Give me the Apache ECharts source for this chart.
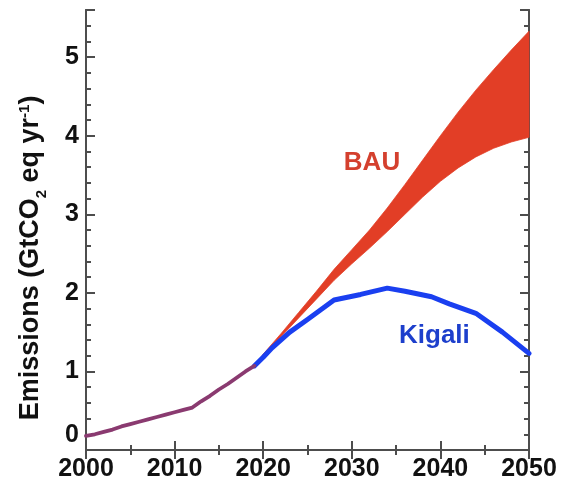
<!DOCTYPE html>
<html><head><meta charset="utf-8">
<script src="https://cdn.jsdelivr.net/npm/echarts@6/dist/echarts.min.js"></script>
<style>html,body{margin:0;padding:0;background:#fff}#c{width:574px;height:482px}</style>
</head><body><div id="c"></div>
<script>
const histYears = [2000,2001,2002,2003,2004,2005,2006,2007,2008,2009,2010,2011,2012,2013,2014,2015,2016,2017,2018,2019];
const histValues = [0.18,0.2,0.23,0.26,0.3,0.33,0.36,0.39,0.42,0.45,0.48,0.51,0.54,0.62,0.69,0.77,0.84,0.92,1.0,1.07];
const bauYears = [2019,2020,2022,2024,2026,2028,2030,2032,2034,2036,2038,2040,2042,2044,2046,2048,2050];
const bauLow  = [1.07,1.2,1.44,1.68,1.92,2.16,2.37,2.57,2.78,3.0,3.22,3.42,3.59,3.73,3.84,3.92,3.98];
const bauHigh = [1.07,1.22,1.48,1.75,2.02,2.3,2.55,2.8,3.08,3.38,3.69,4.0,4.3,4.58,4.84,5.09,5.33];
const kigaliYears = [2019,2020,2021,2023,2025,2028,2031,2034,2036,2039,2041,2044,2047,2050];
const kigaliValues = [1.07,1.18,1.3,1.5,1.66,1.91,1.98,2.06,2.02,1.95,1.86,1.74,1.5,1.23];
const xTicks = [2000,2010,2020,2030,2040,2050];
const yTicks = [0,1,2,3,4,5];

const chart = echarts.init(document.getElementById('c'));
const axisCol = '#4d4d4d';
const font = 'Liberation Sans, Arial, Helvetica, sans-serif';
const lbl = {fontFamily: font, fontWeight: 'bold', fontSize: 25, color: '#111'};

function yAxisDef(pos, interval, len, showLabel){
  return {type:'value', position:pos, min:0, max:5.6, interval:interval,
    axisLine:{show:true, lineStyle:{color:axisCol, width:2}},
    splitLine:{show:false},
    axisTick:{show:true, inside:true, length:len, lineStyle:{color:axisCol, width:2}},
    axisLabel:{show:showLabel, margin:7, ...lbl,
      rich:{z:{fontFamily:font, fontWeight:'bold', fontSize:25, color:'#111', padding:[0,0,30,0]}},
      formatter:v => { const r = Math.round(v); if (!(Math.abs(v-r)<1e-6 && yTicks.includes(r))) return ''; return r === 0 ? '{z|0}' : String(r); }}
  };
}
function xAxisDef(pos, showLabel){
  return {type:'value', position:pos, min:2000, max:2050, interval:10,
    axisLine:{show:true, lineStyle:{color:axisCol, width:2}},
    splitLine:{show:false},
    axisTick:{show:true, inside:true, length:9, lineStyle:{color:axisCol, width:2}},
    minorTick:{show:true, splitNumber:2, length:5, lineStyle:{color:axisCol, width:2}},
    axisLabel:{show:showLabel, margin:7, ...lbl,
      formatter:v => xTicks.includes(v) ? String(v) : ''}
  };
}

const bandData = bauYears.map((y,i)=>[y,bauLow[i],bauHigh[i]]);

chart.setOption({
  animation:false,
  grid:{left:86, right:45, top:10, bottom:32, containLabel:false},
  xAxis:[xAxisDef('bottom', true), xAxisDef('top', false)],
  yAxis:[yAxisDef('left',0.2,5,true), yAxisDef('left',1,9,false), yAxisDef('right',0.2,5,false), yAxisDef('right',1,9,false)],
  series:[
    {type:'custom', name:'BAU', silent:true, data:bandData,
     encode:{x:0, y:[1,2]},
     renderItem:(params, api) => {
       if (params.dataIndex !== 0) return;
       const top = [], bot = [];
       for (let i = 0; i < bandData.length; i++) {
         top.push(api.coord([bandData[i][0], bandData[i][2]]));
         bot.push(api.coord([bandData[i][0], bandData[i][1]]));
       }
       const pts = top.concat(bot.reverse());
       return {type:'polygon', shape:{points:pts, smooth:0}, style:{fill:'#e23e26', stroke:'#e23e26', lineWidth:0.8}};
     }},
    {type:'line', name:'Kigali', symbol:'none', silent:true,
     data: kigaliYears.map((y,i)=>[y,kigaliValues[i]]),
     lineStyle:{width:5, color:'#1a3ff0', join:'round', cap:'round'}},
    {type:'line', name:'History', symbol:'none', silent:true,
     data: histYears.map((y,i)=>[y,histValues[i]]),
     lineStyle:{width:3.8, color:'#8a3a70', join:'round', cap:'round'}}
  ],
  graphic:[
    {type:'text', x:31, y:258, rotation:Math.PI/2,
     style:{text:'{a|Emissions (GtCO}{s|2}{a| eq yr}{p|-1}{a|)}', align:'center', verticalAlign:'middle',
       rich:{
         a:{fontFamily:font, fontWeight:'bold', fontSize:27, fill:'#111', lineHeight:32, verticalAlign:'middle'},
         s:{fontFamily:font, fontWeight:'bold', fontSize:15, fill:'#111', lineHeight:32, verticalAlign:'bottom', padding:[0,0,-2,0]},
         p:{fontFamily:font, fontWeight:'bold', fontSize:15, fill:'#111', lineHeight:32, verticalAlign:'top', padding:[2,0,0,0]}
       }}},
    {type:'text', x:372, y:163, style:{text:'BAU', fontFamily:font, fontWeight:'bold', fontSize:26, fill:'#d4402e', align:'center', verticalAlign:'middle'}},
    {type:'text', x:399, y:336, style:{text:'Kigali', fontFamily:font, fontWeight:'bold', fontSize:26, fill:'#1d3fcc', align:'left', verticalAlign:'middle'}}
  ]
});
</script></body></html>
